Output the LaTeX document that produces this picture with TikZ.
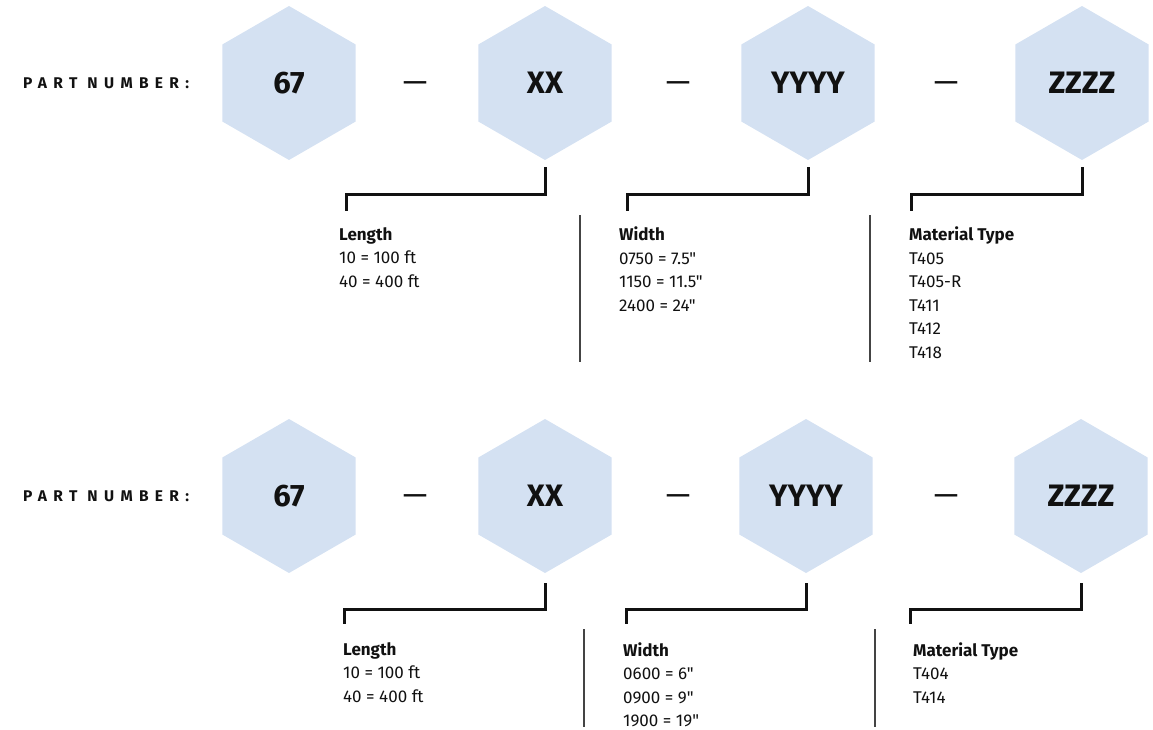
\documentclass[tikz,border=0pt]{standalone}
\usepackage{fontspec}
\setmainfont{Fira Sans}
\newfontfamily\ff{Fira Sans}
\usetikzlibrary{shapes.geometric}
\definecolor{hexfill}{HTML}{D4E1F2}
\definecolor{ink}{HTML}{111111}
\definecolor{sepcol}{HTML}{444444}
\begin{document}
\begin{tikzpicture}[x=1pt,y=-1pt,
  hexa/.style={regular polygon, regular polygon sides=6, shape border rotate=30,
    minimum size=154pt, inner sep=0pt, fill=hexfill, text=ink,
    font=\ff\fontsize{31}{31}\selectfont\bfseries},
  plabel/.style={anchor=west, inner sep=0pt, text=ink,
    font=\ff\fontsize{15.5}{15.5}\selectfont\bfseries\addfontfeature{LetterSpace=41}},
  dashmark/.style={inner sep=0pt, text=ink, font=\ff\fontsize{31}{31}\selectfont},
  bracket/.style={draw=ink, line width=3pt, line join=miter},
  sepline/.style={draw=sepcol, line width=1.4pt},
  info/.style={anchor=north west, inner sep=0pt, align=left, text=ink,
    font=\ff\fontsize{17}{23.5}\selectfont}]
\useasboundingbox (0,0) rectangle (1153,729);

% ---------- top row ----------
\node[plabel] (pn1) at (23,83) {PART NUMBER:};
\node[hexa] (a1) at (289,83) {67};
\node[hexa] (a2) at (545,83) {XX};
\node[hexa] (a3) at (808,83) {YYYY};
\node[hexa] (a4) at (1082,83) {ZZZZ};
\node[dashmark] (ad1) at (415,87) {—};
\node[dashmark] (ad2) at (678,87) {—};
\node[dashmark] (ad3) at (946,87) {—};

\node[info] (len1) at (339,227) {\textbf{Length}\\10 = 100 ft\\40 = 400 ft};
\node[info] (wid1) at (619,227) {\textbf{Width}\\0750 = 7.5"\\1150 = 11.5"\\2400 = 24"};
\node[info] (mat1) at (909,227) {\textbf{Material Type}\\T405\\T405-R\\T411\\T412\\T418};

\coordinate (ae1) at (346,211);
\coordinate (ae2) at (627,211);
\coordinate (ae3) at (911,211);
\draw[bracket] ([yshift=-7pt]a2.south) -- ++(0,27) -| (ae1);
\draw[bracket] ([yshift=-7pt]a3.south) -- ++(0,27) -| (ae2);
\draw[bracket] ([yshift=-7pt]a4.south) -- ++(0,27) -| (ae3);

\coordinate (as1t) at (580,215); \coordinate (as1b) at (580,362);
\coordinate (as2t) at (870,215); \coordinate (as2b) at (870,362);
\draw[sepline] (as1t) -- (as1b);
\draw[sepline] (as2t) -- (as2b);

% ---------- bottom row ----------
\node[plabel] (pn2) at (23,496) {PART NUMBER:};
\node[hexa] (b1) at (289,496) {67};
\node[hexa] (b2) at (545,496) {XX};
\node[hexa] (b3) at (806,496) {YYYY};
\node[hexa] (b4) at (1081,496) {ZZZZ};
\node[dashmark] (bd1) at (415,500) {—};
\node[dashmark] (bd2) at (678,500) {—};
\node[dashmark] (bd3) at (946,500) {—};

\node[info] (len2) at (343,642) {\textbf{Length}\\10 = 100 ft\\40 = 400 ft};
\node[info] (wid2) at (623,642) {\textbf{Width}\\0600 = 6"\\0900 = 9"\\1900 = 19"};
\node[info] (mat2) at (913,642) {\textbf{Material Type}\\T404\\T414};

\coordinate (be1) at (344,624);
\coordinate (be2) at (626,624);
\coordinate (be3) at (910,624);
\draw[bracket] ([yshift=-10pt]b2.south) -- ++(0,26) -| (be1);
\draw[bracket] ([yshift=-10pt]b3.south) -- ++(0,26) -| (be2);
\draw[bracket] ([yshift=-10pt]b4.south) -- ++(0,26) -| (be3);

\coordinate (bs1t) at (584,629); \coordinate (bs1b) at (584,727);
\coordinate (bs2t) at (875,629); \coordinate (bs2b) at (875,727);
\draw[sepline] (bs1t) -- (bs1b);
\draw[sepline] (bs2t) -- (bs2b);
\end{tikzpicture}
\end{document}
